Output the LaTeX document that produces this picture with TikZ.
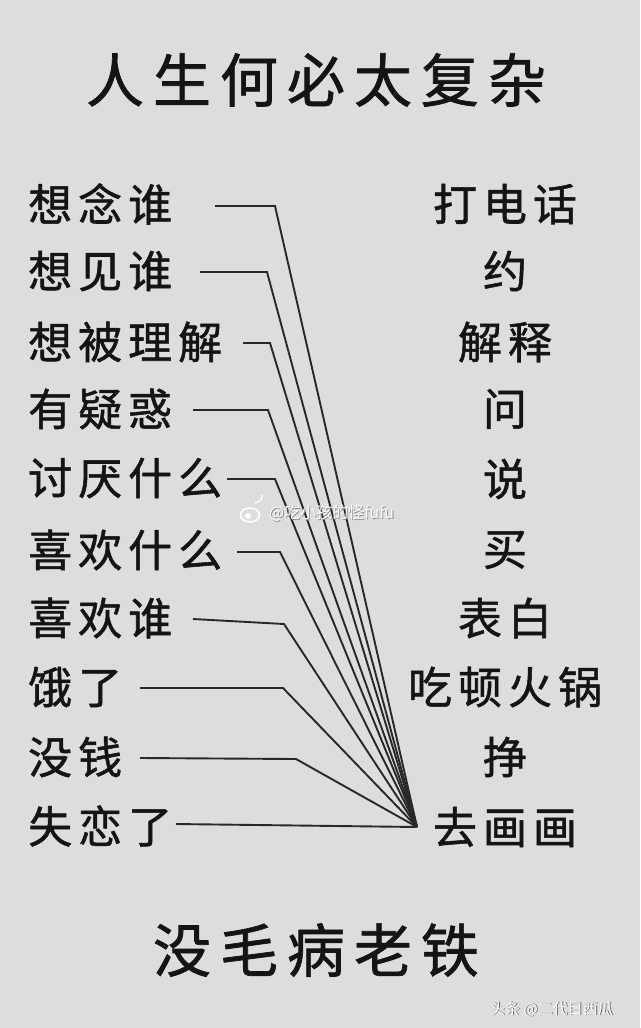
\documentclass[tikz,border=0pt]{standalone}
\usepackage{fontspec}
\newfontfamily\cjk{Noto Sans CJK SC}[FakeBold=1.2]
\newfontfamily\cjkw{Noto Sans CJK SC}
\newcommand\gp{\kern6pt}
\newcommand\gq{\kern9pt}
\definecolor{bg}{RGB}{221,221,221}
\definecolor{ink}{RGB}{20,20,20}
\definecolor{wire}{RGB}{40,40,40}
\begin{document}
\begin{tikzpicture}[x=1pt,y=-1pt,
  lab/.style={font=\cjk\fontsize{44}{44}\selectfont, text=ink, inner sep=0pt},
  lft/.style={lab, anchor=west},
  rgt/.style={lab, anchor=center},
  big/.style={font=\cjk\fontsize{58}{58}\selectfont, text=ink, inner sep=0pt},
  wire/.style={draw=wire, line width=1.9pt, line join=miter},
  wm/.style={font=\cjkw\fontsize{16}{16}\selectfont, inner sep=0pt, anchor=west},
]
\fill[bg] (0,0) rectangle (640,1028);
\useasboundingbox (0,0) rectangle (640,1028);

% title and footer
\node[big] (title) at (316,80) {人\gq 生\gq 何\gq 必\gq 太\gq 复\gq 杂};
\node[big] (foot) at (316,950) {没\gq 毛\gq 病\gq 老\gq 铁};

% left column
\node[lft] (l1) at (28,204) {想\gp 念\gp 谁};
\node[lft] (l2) at (28,271) {想\gp 见\gp 谁};
\node[lft] (l3) at (28,342) {想\gp 被\gp 理\gp 解};
\node[lft] (l4) at (28,409) {有\gp 疑\gp 惑};
\node[lft] (l5) at (28,478) {讨\gp 厌\gp 什\gp 么};
\node[lft] (l6) at (28,550) {喜\gp 欢\gp 什\gp 么};
\node[lft] (l7) at (28,618) {喜\gp 欢\gp 谁};
\node[lft] (l8) at (28,687) {饿\gp 了};
\node[lft] (l9) at (28,757) {没\gp 钱};
\node[lft] (l10) at (28,826) {失\gp 恋\gp 了};

% right column
\node[rgt] (r1) at (505,204) {打\gp 电\gp 话};
\node[rgt] (r2) at (505,271) {约};
\node[rgt] (r3) at (505,342) {解\gp 释};
\node[rgt] (r4) at (505,409) {问};
\node[rgt] (r5) at (505,479) {说};
\node[rgt] (r6) at (505,550) {买};
\node[rgt] (r7) at (505,618) {表\gp 白};
\node[rgt] (r8) at (505,687) {吃\gp 顿\gp 火\gp 锅};
\node[rgt] (r9) at (505,757) {挣};
\node[rgt] (r10) at (505,827) {去\gp 画\gp 画};

% connectors
\coordinate (c) at (417,827);
\coordinate (s1) at (215,206);  \coordinate (b1) at (275,206);
\coordinate (s2) at (200,272);  \coordinate (b2) at (267,272);
\coordinate (s3) at (243,343);  \coordinate (b3) at (270,343);
\coordinate (s4) at (193,410);  \coordinate (b4) at (268,410);
\coordinate (s5) at (227,479);  \coordinate (b5) at (275,479);
\coordinate (s6) at (237,552);  \coordinate (b6) at (280,552);
\coordinate (s7) at (193,619);  \coordinate (b7) at (284,624);
\coordinate (s8) at (140,688);  \coordinate (b8) at (283,688);
\coordinate (s9) at (140,758);  \coordinate (b9) at (296,759);
\coordinate (s10) at (176,824);
\foreach \i in {1,...,9}{\draw[wire] (s\i) -- (b\i) -- (c);}
\draw[wire] (s10) -- (c);

% watermarks
\node[wm, text=black!45] (wm1s) at (269.8,513.8) {@吃小孩的怪fufu};
\node[wm, text=white] (wm1) at (269,513) {@吃小孩的怪fufu};
\draw[white, line width=1.6pt] (250,515) ellipse (9.5 and 7);
\fill[white] (248,516) circle (3);
\draw[white, line width=1.3pt] (255,503) arc (90:-10:7);
\node[wm, font=\cjkw\fontsize{15}{15}\selectfont, text=black!60] (wm2s) at (491,1009.8) {头条 @二代目西瓜};
\node[wm, font=\cjkw\fontsize{15}{15}\selectfont, text=white] (wm2) at (490,1009) {头条 @二代目西瓜};
\end{tikzpicture}
\end{document}
